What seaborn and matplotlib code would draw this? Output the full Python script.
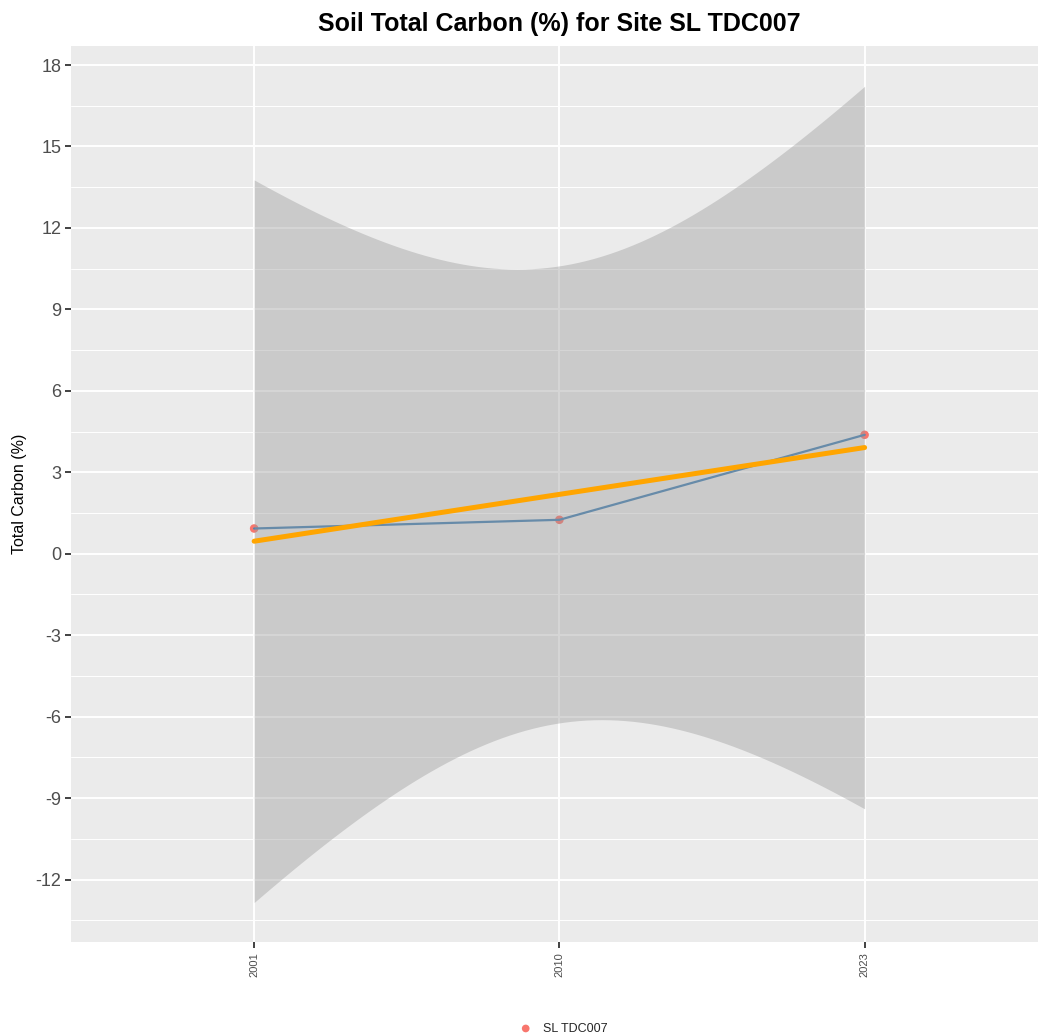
import numpy as np
import pandas as pd
import matplotlib
matplotlib.use('Agg')
import matplotlib.pyplot as plt
import seaborn as sns

# Данные
years = ['2001', '2010', '2023']
carbon = [0.93, 1.25, 4.38]
site = 'SL TDC007'
y_ticks = [-12, -9, -6, -3, 0, 3, 6, 9, 12, 15, 18]

df = pd.DataFrame({'pos': np.arange(1, len(years) + 1), 'carbon': carbon})

# Линейная регрессия с 95% доверительным интервалом (как geom_smooth(method='lm'))
slope, intercept = np.polyfit(df['pos'], df['carbon'], 1)
n = len(df)
resid = df['carbon'] - (intercept + slope * df['pos'])
s = np.sqrt((resid ** 2).sum() / (n - 2))
t_crit = np.tan(np.pi * (0.975 - 0.5))  # t-квантиль при df=1
xs = np.linspace(1, n, 80)
fit = intercept + slope * xs
se = s * np.sqrt(1 / n + (xs - df['pos'].mean()) ** 2 / ((df['pos'] - df['pos'].mean()) ** 2).sum())
smooth = pd.DataFrame({'pos': xs, 'fit': fit, 'lo': fit - t_crit * se, 'hi': fit + t_crit * se})

sns.set_style('white')
plt.rcParams['font.family'] = ['Liberation Sans', 'DejaVu Sans']
plt.rcParams['axes.unicode_minus'] = False

fig = plt.figure(figsize=(10.38, 10.36), dpi=100)
ax = fig.add_axes([0.0684, 0.0907, 0.941, 0.8649])
ax.set_facecolor('#EBEBEB')
for sp in ax.spines.values():
    sp.set_visible(False)

# Сетка
ax.set_yticks(y_ticks)
ax.set_yticks([v + 1.5 for v in [-15] + y_ticks], minor=True)
ax.set_xticks(df['pos'])
ax.set_xticklabels(years, rotation=90, fontsize=8, color='#4D4D4D')
ax.grid(True, which='major', color='white', linewidth=1.4)
ax.grid(True, which='minor', axis='y', color='white', linewidth=0.7)
ax.set_axisbelow(True)
ax.tick_params(axis='y', which='major', left=True, labelsize=13, labelcolor='#4D4D4D',
               length=4, width=1.3, color='#333333', pad=3)
ax.tick_params(axis='x', which='major', bottom=True, length=4, width=1.3, color='#333333', pad=3)
ax.tick_params(which='minor', length=0)

# Точки и линия
sns.scatterplot(data=df, x='pos', y='carbon', color='#F8766D', s=38, edgecolor='none',
                label=site, ax=ax, zorder=3)
sns.lineplot(data=df, x='pos', y='carbon', color='steelblue', linewidth=1.6, ax=ax,
             zorder=3, legend=False)
ax.fill_between(smooth['pos'], smooth['lo'], smooth['hi'], color='#999999', alpha=0.4,
                linewidth=0, zorder=4)
sns.lineplot(data=smooth, x='pos', y='fit', color='#FFA500', linewidth=3.6, ax=ax,
             zorder=5, legend=False)

ax.set_xlim(0.4, 3.6)
ax.set_ylim(-14.3, 18.7)
ax.set_xlabel('')
ax.set_ylabel('Total Carbon (%)', fontsize=11.5, color='black', labelpad=6)
ax.set_title('Soil Total Carbon (%) for Site SL TDC007', fontsize=18, fontweight='bold',
             color='black', pad=11)

ax.legend(loc='center', bbox_to_anchor=(0.54, 0.007), bbox_transform=fig.transFigure,
          frameon=False, fontsize=9, handletextpad=0.4, borderpad=0, markerscale=0.9)

fig.savefig('out.png', dpi=100)
